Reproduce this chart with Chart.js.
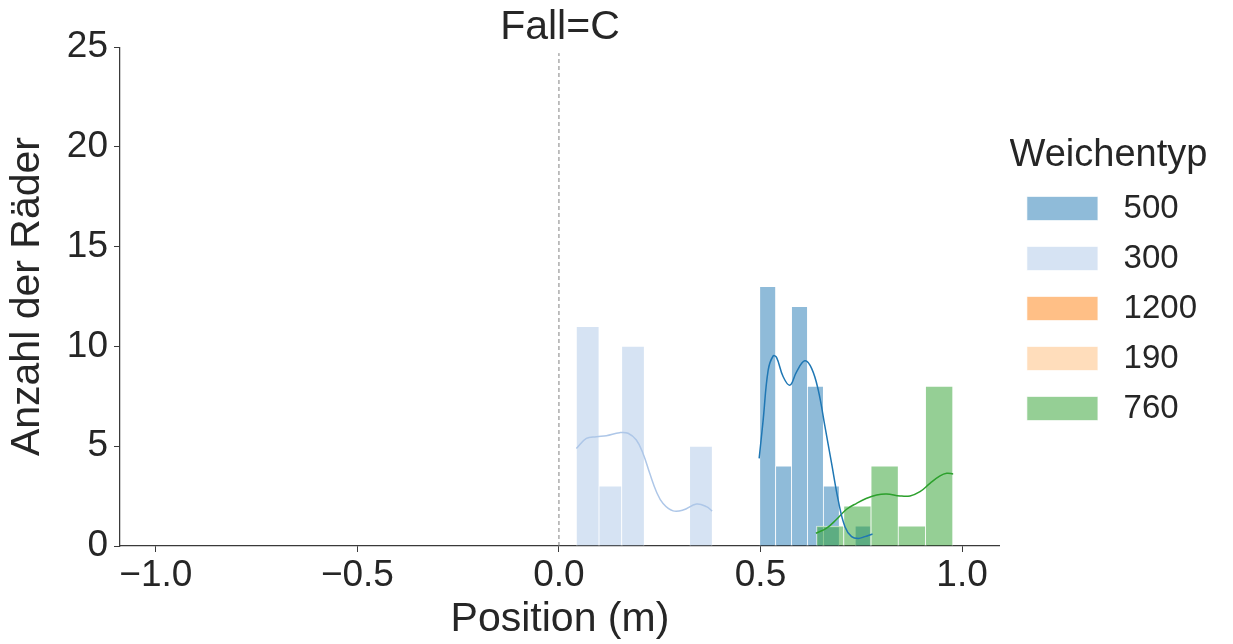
<!DOCTYPE html>
<html>
<head>
<meta charset="utf-8">
<script src="https://cdn.jsdelivr.net/npm/chart.js@4/dist/chart.umd.min.js"></script>
<style>
	html, body { margin:0; padding:0; background:#ffffff; }
	#zone { width:1233px; height:644px; }
</style>
</head>
<body>
<div id="zone"><canvas id="canvas"></canvas></div>
<script>

		var typesWeiche = ["500", "300", "1200", "190", "760"]; // ordre de la légende

		// centres des classes (m) et effectifs de chaque histogramme
		var x500 = [0.5178, 0.5573, 0.5968, 0.6363, 0.6758, 0.7153, 0.7548];
		var n500 = [13, 4, 12, 8, 3, 0, 1];
		var x300 = [0.0713, 0.1275, 0.1837, 0.2399, 0.2961, 0.3523];
		var n300 = [11, 3, 10, 0, 0, 5];
		var x760 = [0.6728, 0.7404, 0.8080, 0.8756, 0.9432];
		var n760 = [1, 2, 4, 1, 8];

		// courbes de densité (kde)
		var kdeX300 = [0.0432, 0.068, 0.0929, 0.1177, 0.1507, 0.1714, 0.192, 0.2086, 0.2252, 0.2418, 0.2583, 0.2831, 0.3079, 0.3412, 0.366, 0.380];
		var kdeY300 = [4.89, 5.39, 5.48, 5.53, 5.68, 5.65, 5.31, 4.64, 3.64, 2.72, 2.13, 1.76, 1.80, 2.10, 1.97, 1.75];
		var kdeX500 = [0.4967, 0.5066, 0.519, 0.5314, 0.5398, 0.5563, 0.5729, 0.5895, 0.61, 0.6268, 0.6432, 0.66, 0.6764, 0.6928, 0.7095, 0.726, 0.7425, 0.759, 0.778];
		var kdeY500 = [4.39, 6.31, 8.8, 9.52, 9.45, 8.48, 8.06, 8.73, 9.28, 8.9, 7.82, 5.98, 4.14, 2.3, 0.97, 0.47, 0.38, 0.47, 0.6];
		var kdeX760 = [0.6375, 0.664, 0.6889, 0.7137, 0.7385, 0.7633, 0.7882, 0.813, 0.846, 0.871, 0.8957, 0.9205, 0.9454, 0.962, 0.978];
		var kdeY760 = [0.64, 0.89, 1.34, 1.84, 2.14, 2.39, 2.56, 2.61, 2.51, 2.51, 2.72, 3.14, 3.51, 3.64, 3.61];

		// ligne verticale pointillée à 0
		var ligneX = [0, 0];
		var ligneY = [0, 24.7];

		var xTicks = [-1.0, -0.5, 0.0, 0.5, 1.0];
		var yTicks = [0, 5, 10, 15, 20, 25];
		var xMin = -1.089;
		var xMax = 1.094;

		var texte = "#262626";
		var police = "'Liberation Sans', Arial, sans-serif";

		function points(xs, ys) {
			var p = [];
			for (var i = 0; i < xs.length; i++) {
				p.push({x: xs[i], y: ys[i]});
			}
			return p;
		}

		function barres(label, xs, ys, axe, couleur, ordre) {
			return {
				type: "bar",
				label: label,
				data: points(xs, ys),
				xAxisID: axe,
				backgroundColor: couleur,
				borderColor: "rgba(255,255,255,0.85)",
				borderWidth: 0.75,
				borderSkipped: "start",
				grouped: false,
				categoryPercentage: 1,
				barPercentage: 1,
				order: ordre
			};
		}

		function courbe(xs, ys, couleur) {
			return {
				type: "line",
				data: points(xs, ys),
				xAxisID: "x",
				borderColor: couleur,
				borderWidth: 1.5,
				pointRadius: 0,
				tension: 0.4,
				fill: false,
				order: 0
			};
		}

		// un axe x caché par histogramme, pour que la largeur des barres suive chaque classe
		function axeCache() {
			return {type: "linear", display: false, min: xMin, max: xMax, offset: false};
		}

		var donnees = {
			datasets: [
				barres(typesWeiche[0], x500, n500, "x500", "rgba(31,119,180,0.5)", 5),
				barres(typesWeiche[1], x300, n300, "x300", "rgba(174,199,232,0.5)", 4),
				barres(typesWeiche[2], [], [], "x", "rgba(255,127,14,0.5)", 3),
				barres(typesWeiche[3], [], [], "x", "rgba(255,187,120,0.5)", 2),
				barres(typesWeiche[4], x760, n760, "x760", "rgba(44,160,44,0.5)", 1),
				courbe(kdeX500, kdeY500, "#1f77b4"),
				courbe(kdeX300, kdeY300, "#aec7e8"),
				courbe(kdeX760, kdeY760, "#2ca02c"),
				{
					type: "line",
					data: points(ligneX, ligneY),
					xAxisID: "x",
					borderColor: "#808080",
					borderWidth: 1,
					borderDash: [4, 3],
					pointRadius: 0,
					order: 0
				}
			]
		};

		// petit décalage de la légende vers la droite
		var decaleLegende = {
			id: "decaleLegende",
			afterLayout: function(chart) {
				chart.legend.left += 10;
				chart.legend.right += 10;
			}
		};

		var monHisto = {
			type: "bar",
			data: donnees,
			plugins: [decaleLegende],
			options: {
				responsive: true,
				maintainAspectRatio: false,
				animation: false,
				devicePixelRatio: 1,
				layout: { padding: { left: 0, right: 36, top: 0, bottom: 0 } },
				plugins: {
					tooltip: { enabled: false },
					title: {
						display: true,
						text: "Fall=C",
						fullSize: false,
						color: texte,
						font: { family: police, size: 41, weight: "normal", lineHeight: 0.93 },
						padding: { top: 9, bottom: 0 }
					},
					legend: {
						position: "right",
						align: "start",
						title: {
							display: true,
							text: "Weichentyp",
							color: texte,
							font: { family: police, size: 38, lineHeight: 1.0 },
							padding: { top: 137, bottom: 0 }
						},
						labels: {
							boxWidth: 71,
							boxHeight: 24,
							padding: 17,
							color: texte,
							font: { family: police, size: 33 },
							sort: function(a, b) { return a.datasetIndex - b.datasetIndex; },
							generateLabels: function(chart) {
								var items = Chart.defaults.plugins.legend.labels.generateLabels(chart);
								return items.filter(function(it) { return it.datasetIndex < 5; }).map(function(it) {
									it.text = " " + it.text;
									return it;
								});
							}
						}
					}
				},
				scales: {
					x: {
						type: "linear",
						min: xMin,
						max: xMax,
						offset: false,
						afterBuildTicks: function(s) { s.ticks = xTicks.map(function(v) { return {value: v}; }); },
						afterFit: function(s) { s.height = 98; },
						grid: { drawOnChartArea: false, drawTicks: true, tickLength: 6, tickColor: "#3a3a3a", offset: false },
						border: { color: "#3a3a3a", width: 1.25 },
						ticks: {
							color: texte,
							padding: 2,
							maxRotation: 0,
							font: { family: police, size: 37 },
							callback: function(v) { return v.toFixed(1).replace("-", "\u2212"); }
						},
						title: {
							display: true,
							text: "Position (m)",
							color: texte,
							font: { family: police, size: 41 },
							padding: { top: 0, bottom: 0 }
						}
					},
					x500: axeCache(),
					x300: axeCache(),
					x760: axeCache(),
					y: {
						type: "linear",
						min: 0,
						max: 25,
						afterBuildTicks: function(s) { s.ticks = yTicks.map(function(v) { return {value: v}; }); },
						afterFit: function(s) { s.width = 120; },
						grid: { drawOnChartArea: false, drawTicks: true, tickLength: 6, tickColor: "#3a3a3a" },
						border: { color: "#3a3a3a", width: 1.25 },
						ticks: {
							color: texte,
							padding: 6,
							font: { family: police, size: 37 }
						},
						title: {
							display: true,
							text: "Anzahl der Räder",
							color: texte,
							font: { family: police, size: 41 },
							padding: { top: 3, bottom: 0 }
						}
					}
				}
			}
		};

		window.onload = function() {
			window.monGraphique = new Chart(document.getElementById("canvas"), monHisto);
		};
</script>
</body>
</html>
